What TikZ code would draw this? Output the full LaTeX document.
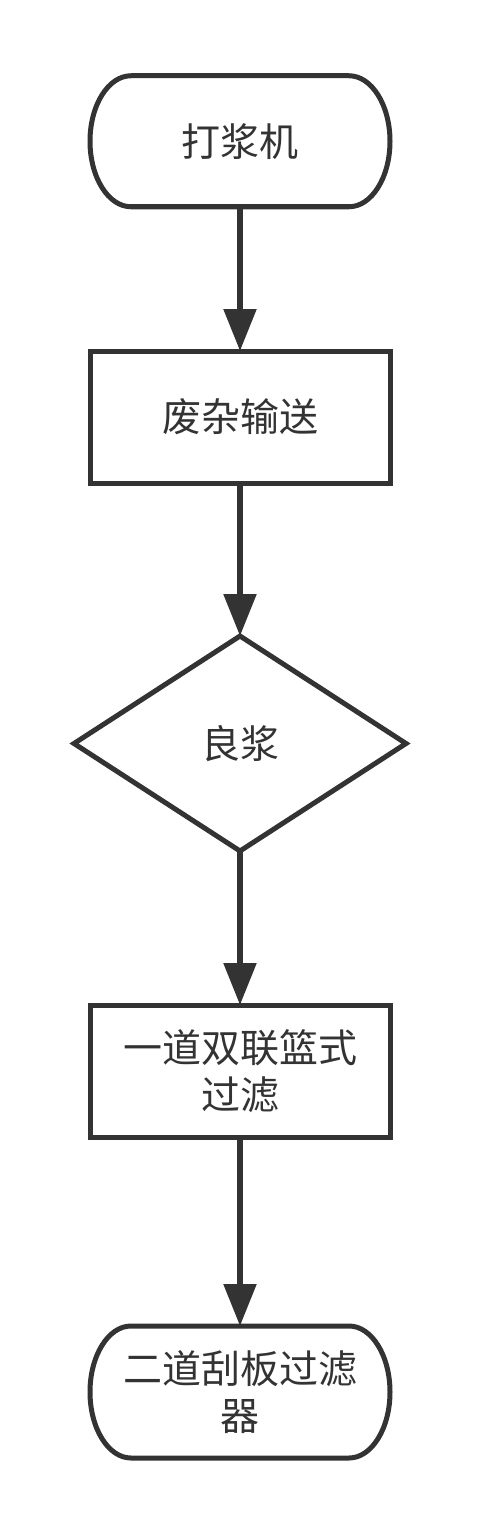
\documentclass[tikz,border=0pt]{standalone}
\usepackage{fontspec}
\newfontfamily\cjk{Noto Sans CJK SC}
\usetikzlibrary{arrows.meta,shapes.geometric}
\definecolor{ink}{HTML}{333333}
\begin{document}
\begin{tikzpicture}[x=1pt,y=1pt,
  base/.style={inner sep=0pt, outer sep=0pt, text=ink, font=\cjk\fontsize{39}{47}\selectfont, align=center},
  term/.style={base, minimum width=300pt, minimum height=131pt},
  proc/.style={base, draw=ink, line width=5pt, minimum width=300pt, minimum height=132pt},
  dec/.style={base, diamond, draw=ink, line width=5pt, minimum width=332pt, minimum height=215pt, line join=miter},
  outline/.style={draw=ink, line width=5pt},
  flow/.style={draw=ink, line width=5.5pt, -{Triangle[length=42pt,width=32pt]}},
]
\useasboundingbox (0,0) rectangle (480,-1533);
\node[term] (n1) at (240,-141.25) {打浆机};
\node[proc] (n2) at (240,-417) {废杂输送};
\node[dec]  (n3) at (240,-743.5) {良浆};
\node[proc] (n4) at (240,-1071) {一道双联篮式\\过滤};
\node[term, minimum height=132pt] (n5) at (240,-1392) {二道刮板过滤\\器};
\draw[outline] ([xshift=41pt]n1.north west) -- ([xshift=-41pt]n1.north east)
  arc[start angle=90, end angle=-90, x radius=41pt, y radius=65.5pt]
  -- ([xshift=41pt]n1.south west)
  arc[start angle=270, end angle=90, x radius=41pt, y radius=65.5pt] -- cycle;
\draw[outline] ([xshift=41pt]n5.north west) -- ([xshift=-41pt]n5.north east)
  arc[start angle=90, end angle=-90, x radius=41pt, y radius=66pt]
  -- ([xshift=41pt]n5.south west)
  arc[start angle=270, end angle=90, x radius=41pt, y radius=66pt] -- cycle;
\draw[flow] (n1.south) -- (n2.north);
\draw[flow] (n2.south) -- (n3.north);
\draw[flow] (n3.south) -- (n4.north);
\draw[flow] (n4.south) -- (n5.north);
\end{tikzpicture}
\end{document}
